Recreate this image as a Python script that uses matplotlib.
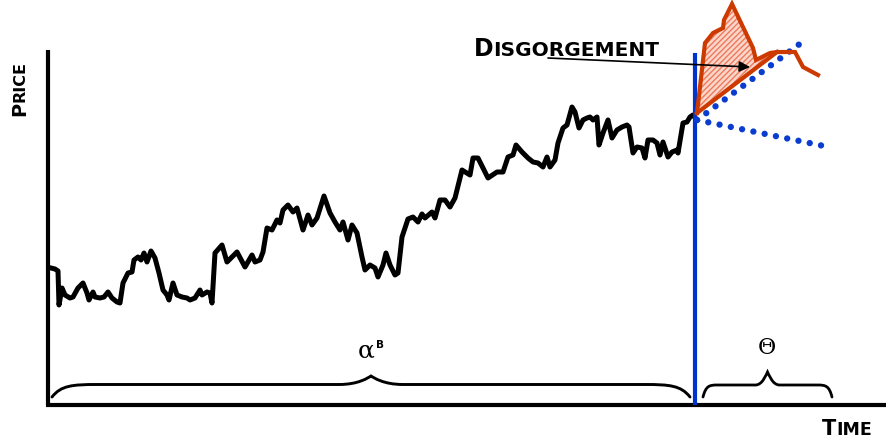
import numpy as np
import matplotlib
matplotlib.use("Agg")
import matplotlib.pyplot as plt
from matplotlib.path import Path
from matplotlib.patches import PathPatch

# ---------------- data (time, level on an inverted screen-like scale) ----------------
stock_t = [51, 55, 58, 59, 62, 65, 70, 73, 78, 83, 87, 89, 93, 95, 100, 104, 108, 112, 117, 120,
           123, 128, 132, 134, 138, 141, 144, 147, 151, 155, 159, 163, 167, 169, 173, 177, 182, 187,
           190, 195, 200, 202, 207, 210, 212, 215, 222, 227, 232, 237, 245, 252, 255, 260, 263, 267,
           272, 277, 280, 283, 288, 293, 297, 303, 308, 312, 317, 324, 330, 335, 340, 343, 348, 352,
           357, 362, 365, 370, 375, 378, 383, 386, 390, 395, 398, 402, 408, 413, 418, 422, 425, 432,
           435, 440, 445, 450, 455, 462, 470, 473, 478, 488, 497, 503, 508, 513, 516, 522, 528, 533,
           538, 543, 547, 550, 555, 558, 563, 567, 572, 575, 579, 583, 587, 590, 593, 597, 599, 603,
           608, 612, 617, 622, 627, 629, 633, 637, 642, 645, 648, 653, 657, 660, 663, 668, 672, 677,
           678, 683, 687, 690, 693, 697]
stock_y = [268, 269, 271, 305, 288, 295, 298, 297, 288, 283, 293, 300, 292, 297, 298, 297, 292, 298,
           302, 303, 283, 273, 272, 260, 257, 260, 253, 262, 251, 258, 273, 290, 295, 300, 283, 295,
           297, 298, 300, 298, 290, 295, 292, 293, 303, 253, 245, 262, 257, 252, 267, 255, 262, 260,
           252, 228, 230, 220, 223, 210, 205, 212, 208, 230, 215, 225, 218, 196, 213, 222, 230, 222,
           240, 225, 233, 257, 270, 265, 268, 277, 265, 253, 265, 275, 273, 237, 219, 217, 222, 214,
           218, 212, 218, 200, 200, 207, 198, 170, 175, 158, 158, 178, 172, 172, 157, 155, 145, 152,
           158, 162, 163, 167, 157, 167, 160, 143, 128, 125, 107, 112, 128, 120, 118, 117, 120, 117,
           145, 133, 120, 138, 130, 127, 125, 127, 153, 147, 148, 158, 140, 140, 143, 155, 142, 157,
           152, 150, 153, 123, 122, 117, 115, 120]

post_t = [697, 705, 713, 723, 724, 732, 753, 756, 770, 777, 795, 803, 818]
post_y = [113, 43, 33, 28, 20, 4, 48, 60, 53, 52, 52, 67, 75]
disgorge_n = 10  # points of the post-event path enclosing the disgorgement area

upper_path_t = [697, 801]
upper_path_y = [120, 43]
lower_path_t = [697, 824]
lower_path_y = [120, 146]

event_t = 695
estimation_window = (52, 690)
event_window = (703, 832)

# ---------------- figure ----------------
fig = plt.figure(figsize=(8.87, 4.41), dpi=100)
ax = fig.add_axes([0, 0, 1, 1])
ax.set_xlim(0, 887)
ax.set_ylim(441, 0)
ax.set_xticks([])
ax.set_yticks([])
for s in ("top", "right"):
    ax.spines[s].set_visible(False)
ax.spines["left"].set_position(("data", 48))
ax.spines["left"].set_bounds(405, 50)
ax.spines["bottom"].set_position(("data", 405))
ax.spines["bottom"].set_bounds(46, 887)
for s in ("left", "bottom"):
    ax.spines[s].set_linewidth(3.0)
    ax.spines[s].set_color("black")
    ax.spines[s].set_capstyle("butt")

# stock path
ax.plot(stock_t, stock_y, color="black", lw=3.6, solid_joinstyle="round", zorder=3)

# event line
ax.plot([event_t, event_t], [53, 405], color="#0033cc", lw=3.0, zorder=4, solid_capstyle="butt")

# expected paths (dotted)
for tt, yy in ((upper_path_t, upper_path_y), (lower_path_t, lower_path_y)):
    ax.plot(tt, yy, color="#0a3cd0", lw=4.6, linestyle=(0, (0.001, 1.8)),
            dash_capstyle="round", zorder=5)

# disgorgement area
fill_t = post_t[:disgorge_n] + [post_t[0]]
fill_y = post_y[:disgorge_n] + [post_y[0]]
ax.fill(fill_t, fill_y, facecolor="#fbd6cb", edgecolor="#ee7a5c", hatch="//////",
        linewidth=0, zorder=5)
ax.plot(post_t, post_y, color="#cc3a00", lw=3.0, solid_joinstyle="miter", zorder=6)
ax.plot([post_t[0], post_t[disgorge_n - 1]], [post_y[0], post_y[disgorge_n - 1]],
        color="#cc3a00", lw=3.0, zorder=6)


# braces
def brace(x0, x1, y_end, y_mid, y_tip, r_end, r_tip, lw):
    xc = (x0 + x1) / 2
    verts = [(x0, y_end),
             (x0 + r_end * 0.2, y_mid + 1), (x0 + r_end * 0.45, y_mid), (x0 + r_end, y_mid),
             (xc - r_tip, y_mid),
             (xc - r_tip * 0.4, y_mid), (xc - r_tip * 0.1, y_tip + 2), (xc, y_tip),
             (xc + r_tip * 0.1, y_tip + 2), (xc + r_tip * 0.4, y_mid), (xc + r_tip, y_mid),
             (x1 - r_end, y_mid),
             (x1 - r_end * 0.45, y_mid), (x1 - r_end * 0.2, y_mid + 1), (x1, y_end)]
    codes = [Path.MOVETO,
             Path.CURVE4, Path.CURVE4, Path.CURVE4,
             Path.LINETO,
             Path.CURVE4, Path.CURVE4, Path.CURVE4,
             Path.CURVE4, Path.CURVE4, Path.CURVE4,
             Path.LINETO,
             Path.CURVE4, Path.CURVE4, Path.CURVE4]
    ax.add_patch(PathPatch(Path(verts, codes), facecolor="none", edgecolor="black",
                           lw=lw, zorder=3, capstyle="round"))


brace(estimation_window[0], estimation_window[1], 397, 384.5, 376, 45, 32, 2.1)
brace(event_window[0], event_window[1], 397, 385, 372, 14, 12, 2.0)

ax.text(358, 358, "\u03b1", fontsize=18, family="DejaVu Serif", color="black",
        ha="left", va="baseline")
ax.text(376, 348, "B", fontsize=7.5, fontweight="bold", color="black", ha="left", va="baseline")
ax.text(767, 354, "\u0398", fontsize=16, family="DejaVu Serif", color="black",
        ha="center", va="baseline")

# small-caps style labels
fw = "bold"
d = ax.text(474, 56, "D", fontsize=17, fontweight=fw, ha="left", va="baseline")
ax.annotate("ISGORGEMENT", xy=(1, 56), xycoords=(d, "data"), fontsize=14.5,
            fontweight=fw, ha="left", va="baseline")
ax.annotate("", xy=(750, 67), xytext=(548, 58), xycoords="data",
            arrowprops=dict(arrowstyle="-|>", color="black", lw=1.2, mutation_scale=16,
                            shrinkA=0, shrinkB=0), zorder=7)

t = ax.text(822, 435, "T", fontsize=15, fontweight=fw, ha="left", va="baseline")
ax.annotate("IME", xy=(1, 435), xycoords=(t, "data"), fontsize=12.5, fontweight=fw,
            ha="left", va="baseline")

p = ax.text(25, 116, "P", fontsize=14, fontweight=fw, rotation=90, rotation_mode="anchor",
            ha="left", va="baseline")
ax.annotate("RICE", xy=(25, 1), xycoords=("data", p), fontsize=11.5, fontweight=fw,
            rotation=90, rotation_mode="anchor", ha="left", va="baseline")

fig.savefig("out.png", dpi=100, facecolor="white")
